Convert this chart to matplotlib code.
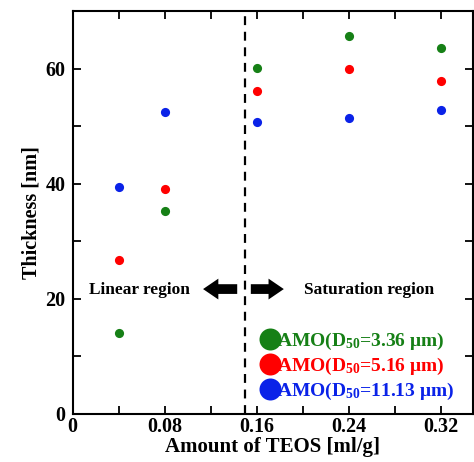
import matplotlib
matplotlib.use('Agg')
import matplotlib.pyplot as plt

plt.rcParams['font.family'] = ['Liberation Serif', 'DejaVu Serif']
plt.rcParams['font.weight'] = 'bold'
plt.rcParams['axes.labelweight'] = 'bold'
plt.rcParams['mathtext.fontset'] = 'custom'
plt.rcParams['mathtext.rm'] = 'Liberation Serif:bold'
plt.rcParams['mathtext.default'] = 'rm'

# data
teos = [0.04, 0.08, 0.16, 0.24, 0.32]
thick_336 = [14.0, 35.2, 60.1, 65.6, 63.5]
thick_516 = [26.7, 39.1, 56.1, 60.0, 57.8]
thick_1113 = [39.5, 52.5, 50.8, 51.4, 52.9]
labels = ['AMO(D$_{50}$=3.36 μm)', 'AMO(D$_{50}$=5.16 μm)', 'AMO(D$_{50}$=11.13 μm)']
colors = ['#168016', '#ff0000', '#0a22e8']
boundary = 0.15

fig = plt.figure(figsize=(4.74, 4.62), dpi=100)
ax = fig.add_axes([0.153, 0.104, 0.845, 0.872])

for ys, c, lab in zip([thick_336, thick_516, thick_1113], colors, labels):
    ax.plot(teos, ys, 'o', color=c, ms=6.6, mec='none', label=lab)

ax.axvline(boundary, color='black', ls=(0, (4, 3)), lw=1.6)

# region arrows
arrow = dict(arrowstyle='simple,head_length=0.55,head_width=0.75,tail_width=0.35',
             color='black', lw=0, mutation_scale=20)
ax.annotate('', xy=(0.111, 21.7), xytext=(0.1455, 21.7), arrowprops=arrow)
ax.annotate('', xy=(0.186, 21.7), xytext=(0.1525, 21.7), arrowprops=arrow)
ax.text(0.058, 21.6, 'Linear region', ha='center', va='center', fontsize=12.5)
ax.text(0.258, 21.6, 'Saturation region', ha='center', va='center', fontsize=12.5)

leg = ax.legend(loc='lower left', bbox_to_anchor=(0.45, 0.0), frameon=False,
                handlelength=0.6, handletextpad=0.05, borderpad=0.1, labelspacing=0.2,
                markerscale=2.4, fontsize=14)
for t, c in zip(leg.get_texts(), colors):
    t.set_color(c)

ax.set_xlim(0, 0.348)
ax.set_ylim(0, 70)
ax.set_xticks([0, 0.08, 0.16, 0.24, 0.32])
ax.set_xticklabels(['0', '0.08', '0.16', '0.24', '0.32'])
ax.set_xticks([0.04, 0.12, 0.20, 0.28], minor=True)
ax.set_yticks([0, 20, 40, 60])
ax.set_yticks([10, 30, 50], minor=True)
ax.tick_params(which='both', direction='in', top=True, right=True, labelsize=14.5, width=1.3)
ax.tick_params(axis='y', pad=5)
ax.tick_params(axis='x', pad=2)
ax.tick_params(which='major', length=6)
ax.tick_params(which='minor', length=6)
for s in ax.spines.values():
    s.set_linewidth(1.5)

ax.set_xlabel('Amount of TEOS [ml/g]', fontsize=15, labelpad=0)
ax.set_ylabel('Thickness [nm]', fontsize=14.5, labelpad=3)

fig.savefig('out.png', dpi=100)
